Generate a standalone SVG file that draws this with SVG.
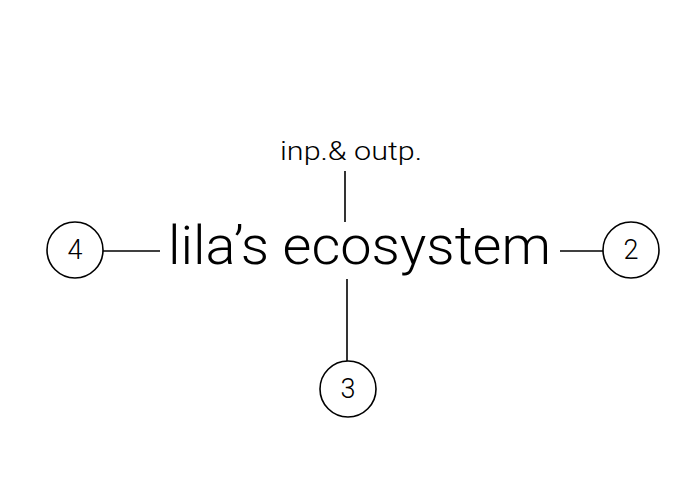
<svg xmlns="http://www.w3.org/2000/svg" width="695" height="494" viewBox="0 0 695 494">
<style>
  .bg { fill: #ffffff; }
  .node circle { fill: #ffffff; stroke: #000000; stroke-width: 1.6; }
  .num { font-family: Roboto, "Liberation Sans", sans-serif; font-size: 27px; font-weight: 300; fill: #000000; text-anchor: middle; }
  .conn line { stroke: #000000; stroke-width: 1.6; }
  .title { font-family: Roboto, "Liberation Sans", sans-serif; font-size: 53px; font-weight: 300; fill: #000000; }
  .label { font-family: Roboto, "Liberation Sans", sans-serif; font-size: 26px; font-weight: 300; fill: #000000; }
</style>
<rect class="bg" x="0" y="0" width="695" height="494"/>
<g id="connectors" class="conn">
  <line x1="103" y1="251" x2="160" y2="251"/>
  <line x1="560" y1="251" x2="603" y2="251"/>
  <line x1="345" y1="171" x2="345" y2="222"/>
  <line x1="347" y1="279" x2="347" y2="361"/>
</g>
<g id="center">
  <text class="title" x="168" y="264" textLength="383" lengthAdjust="spacingAndGlyphs">lila’s ecosystem</text>
</g>
<g id="io">
  <text class="label" x="280" y="160" textLength="142" lengthAdjust="spacingAndGlyphs">inp.&amp; outp.</text>
</g>
<g id="node4" class="node">
  <circle cx="75" cy="250" r="28"/>
  <text class="num" x="75" y="259">4</text>
</g>
<g id="node2" class="node">
  <circle cx="631" cy="250" r="28"/>
  <text class="num" x="631" y="259">2</text>
</g>
<g id="node3" class="node">
  <circle cx="348" cy="389" r="28"/>
  <text class="num" x="348" y="398">3</text>
</g>
</svg>
